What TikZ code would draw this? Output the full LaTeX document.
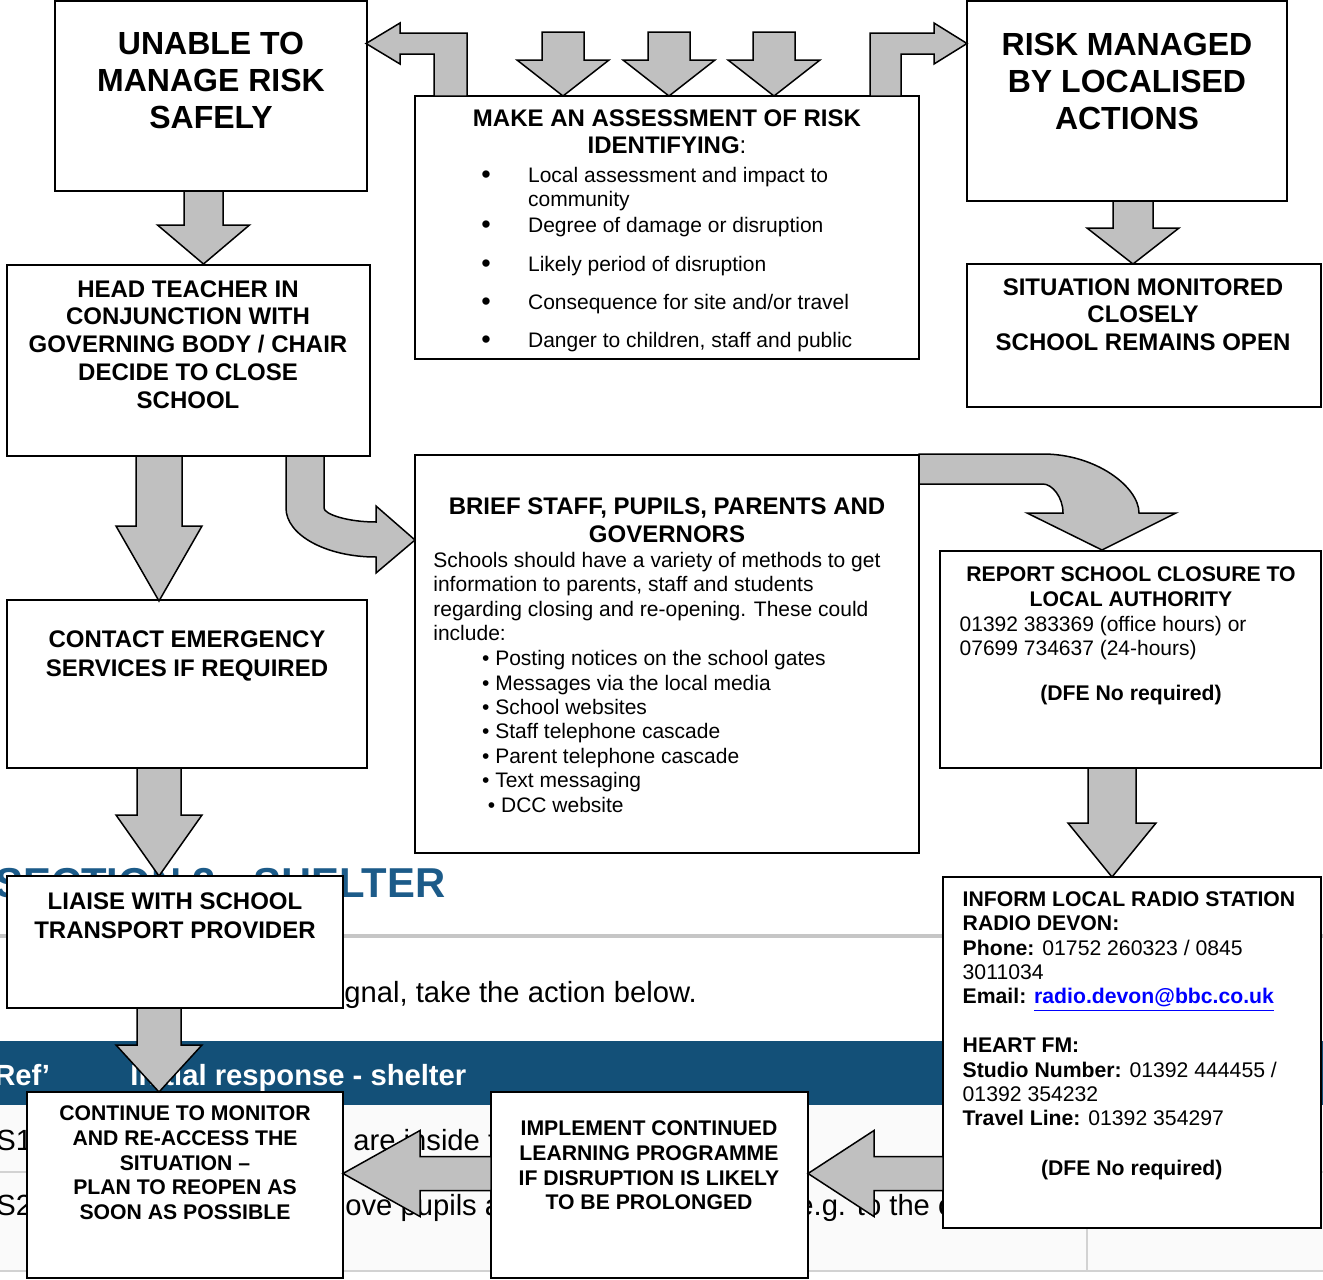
\documentclass[tikz,border=0pt]{standalone}
\usepackage{fontspec}
\setmainfont{Liberation Sans}
\usetikzlibrary{fit}

\definecolor{bandblue}{RGB}{19,80,120}
\definecolor{headblue}{RGB}{28,91,137}
\definecolor{arrowgrey}{RGB}{192,192,192}

\tikzset{
  box/.style={draw=black, fill=white, line width=1pt, inner sep=0pt},
  fat/.style={draw=black, fill=arrowgrey, line width=0.75pt},
  bigtxt/.style={inner sep=0pt, anchor=north, align=center, font=\fontsize{16}{18.5}\selectfont\bfseries},
  hdrtxt/.style={inner sep=0pt, anchor=north, align=center, font=\fontsize{12}{13.9}\selectfont\bfseries},
  smltxt/.style={inner sep=0pt, anchor=north, align=center, font=\fontsize{10.6}{12.35}\selectfont\bfseries},
  bodytxt/.style={inner sep=0pt, anchor=north west, align=left, font=\fontsize{10.5}{12.2}\selectfont},
  bgtxt/.style={inner sep=0pt, anchor=base west, font=\fontsize{14.6}{17}\selectfont}
}

% x, top, base, tip, shaft half width, head half width
\newcommand{\fatdown}[6]{%
  \draw[fat] (#1-#5,#2) -- (#1+#5,#2) -- (#1+#5,#3) -- (#1+#6,#3) -- (#1,#4) -- (#1-#6,#3) -- (#1-#5,#3) -- cycle;}
% y, start, base, tip, shaft half width, head half width
\newcommand{\fatleft}[6]{%
  \draw[fat] (#2,#1-#5) -- (#3,#1-#5) -- (#3,#1-#6) -- (#4,#1) -- (#3,#1+#6) -- (#3,#1+#5) -- (#2,#1+#5) -- cycle;}

\begin{document}
\begin{tikzpicture}[x=0.5pt, y=-0.5pt]
    \useasboundingbox (0,0) rectangle (1323,1280);
    \clip (0,0) rectangle (1323,1280);
    \fill[white] (0,0) rectangle (1323,1280);

    % page behind the chart
    \node[bgtxt, text=headblue, font=\fontsize{20.9}{24}\selectfont\bfseries] (sectitle) at (-5,897) {SECTION 2 - SHELTER};
    \draw[line width=2pt, gray!45] (0,936) -- (1323,936);
    \node[bgtxt] (sentence) at (344,1002) {gnal, take the action below.};
    \fill[bandblue] (0,1041) rectangle (1323,1105);
    \node[bgtxt, text=white, font=\fontsize{14.6}{17}\selectfont\bfseries] (refhdr) at (-6,1085) {Ref’};
    \node[bgtxt, text=white, font=\fontsize{14.6}{17}\selectfont\bfseries] (resphdr) at (130,1085) {Initial response - shelter};
    \fill[gray!4] (0,1105) rectangle (1323,1271);
    \draw[gray!35, line width=1pt] (0,1172) -- (1323,1172);
    \draw[gray!35, line width=1pt] (0,1271) -- (1323,1271);
    \draw[gray!35, line width=1pt] (1087,1105) -- (1087,1271);
    \node[bgtxt] (rowa) at (-4,1150) {S1};
    \node[bgtxt] (rowb) at (-4,1215) {S2};
    \node[bgtxt] (rowatxt) at (353,1150) {are inside t};
    \node[bgtxt] (rowbtxt) at (345,1215) {ove pupils a};
    \node[bgtxt] (rowbtxtb) at (797,1215) {e.g. to the c};

    % boxes
    \node[box, fit={(55,1) (367,191)}] (unable) {};
    \node[box, fit={(415,96) (919,359)}] (assess) {};
    \node[box, fit={(967,1) (1287,201)}] (managed) {};
    \node[box, fit={(967,264) (1321,407)}] (monitored) {};
    \node[box, fit={(7,265) (370,456)}] (head) {};
    \node[box, fit={(415,455) (919,853)}] (brief) {};
    \node[box, fit={(7,600) (367,768)}] (contact) {};
    \node[box, fit={(940,551) (1321,768)}] (report) {};
    \node[box, fit={(7,876) (343,1008)}] (liaise) {};
    \node[box, fit={(943,877) (1321,1228)}] (inform) {};
    \node[box, fit={(27,1092) (343,1278)}] (continue) {};
    \node[box, fit={(491,1092) (808,1278)}] (implement) {};

    % straight arrows
    \fatdown{203.5}{191}{225}{264}{19.5}{46}
    \fatdown{159}{456}{526}{601}{23}{43}
    \fatdown{159}{768}{815}{876}{22}{43}
    \fatdown{159}{1008}{1045}{1092}{22}{43}
    \foreach \x in {563, 669, 774} {
        \fatdown{\x}{32}{60}{96}{21}{46}
    }
    \fatdown{1133}{201}{228}{264}{20}{46}
    \fatdown{1112}{768}{823}{877}{24}{44}
    \fatleft{1173.5}{943}{874}{808}{17}{43}
    \fatleft{1173.5}{491}{420}{343}{17}{43}

    % bent arrows
    \draw[fat] (434,96) -- (434,54) -- (400,54) -- (400,64) -- (366,43.5) -- (400,23) -- (400,33) -- (467,33) -- (467,96) -- cycle;
    \draw[fat] (870,96) -- (870,33) -- (934,33) -- (934,23) -- (967,43.5) -- (934,64) -- (934,54) -- (901,54) -- (901,96) -- cycle;
    \draw[fat] (286,456) -- (286,508) .. controls (286,535) and (326,557) .. (376,557) -- (376,573) -- (415,540) -- (376,506) -- (376,522)
        .. controls (347,522) and (324,514) .. (324,508) -- (324,456) -- cycle;
    \draw[fat] (919,454) -- (1043,454) .. controls (1096,454) and (1139,487) .. (1139,513) -- (1176,513) -- (1102,550) -- (1027,513) -- (1063,513)
        .. controls (1063,497) and (1052,484) .. (1043,484) -- (919,484) -- cycle;

    % texts
    \node[bigtxt] (unabletxt) at (211,32) {UNABLE TO\\MANAGE RISK\\SAFELY};
    \node[bigtxt] (managedtxt) at (1127,32.5) {RISK MANAGED\\BY LOCALISED\\ACTIONS};
    \node[hdrtxt] (assesstxt) at (667,109) {MAKE AN ASSESSMENT OF RISK\\IDENTIFYING\textmd{:}};
    \foreach \y/\t [count=\i] in {182.5/Local assessment and impact to, 232/Degree of damage or disruption,
        271/Likely period of disruption, 309/{Consequence for site and/or travel}, 347/{Danger to children, staff and public}} {
        \node[bodytxt, anchor=base, font=\fontsize{13.5}{14}\selectfont] (dot\i) at (486,\y+1) {•};
        \node[bodytxt, anchor=base west] (item\i) at (527.7,\y) {\t};
    }
    \node[bodytxt, anchor=base west] (itemrest) at (527.7,206) {community};
    \node[hdrtxt] (monitoredtxt) at (1143,278) {SITUATION MONITORED\\CLOSELY\\SCHOOL REMAINS OPEN};
    \node[hdrtxt] (headtxt) at (188,280) {HEAD TEACHER IN\\CONJUNCTION WITH\\GOVERNING BODY / CHAIR\\DECIDE TO CLOSE\\SCHOOL};
    \node[hdrtxt] (brieftxt) at (667,497.5) {BRIEF STAFF, PUPILS, PARENTS AND\\GOVERNORS};
    \node[bodytxt] (briefbody) at (433,551.6) {Schools should have a variety of methods to get\\information to parents, staff and students\\regarding closing and re-opening. These could\\include:};
    \node[bodytxt] (brieflist) at (481.7,650) {• Posting notices on the school gates\\• Messages via the local media\\• School websites\\• Staff telephone cascade\\• Parent telephone cascade\\• Text messaging\\\ • DCC website};
    \node[hdrtxt, font=\fontsize{12}{14.5}\selectfont\bfseries] (contacttxt) at (187,630.3) {CONTACT EMERGENCY\\SERVICES IF REQUIRED};
    \node[hdrtxt, font=\fontsize{12}{14.5}\selectfont\bfseries] (liaisetxt) at (175,892.3) {LIAISE WITH SCHOOL\\TRANSPORT PROVIDER};
    \node[smltxt] (continuetxt) at (185,1105.4) {CONTINUE TO MONITOR\\AND RE-ACCESS THE\\SITUATION –\\PLAN TO REOPEN AS\\SOON AS POSSIBLE};
    \node[smltxt] (implementtxt) at (649,1120.4) {IMPLEMENT CONTINUED\\LEARNING PROGRAMME\\IF DISRUPTION IS LIKELY\\TO BE PROLONGED};
    \node[smltxt] (reporttxt) at (1131,566.7) {REPORT SCHOOL CLOSURE TO\\LOCAL AUTHORITY};
    \node[bodytxt] (reportnum) at (959.3,615.4) {01392 383369 (office hours) or\\07699 734637 (24-hours)};
    \node[smltxt, anchor=base] (reportdfe) at (1131,700) {(DFE No required)};
    \node[bodytxt, font=\fontsize{10.6}{12.2}\selectfont] (informtxt) at (962.3,891) {\textbf{INFORM LOCAL RADIO STATION}\\\textbf{RADIO DEVON:}\\\textbf{Phone:} 01752 260323 / 0845\\3011034\\\textbf{Email:} \textcolor{blue}{\textbf{\underline{radio.devon@bbc.co.uk}}}\\[12.2pt]\textbf{HEART FM:}\\\textbf{Studio Number:} 01392 444455 /\\01392 354232\\\textbf{Travel Line:} 01392 354297};
    \node[smltxt, anchor=base] (informdfe) at (1131.7,1175) {(DFE No required)};
\end{tikzpicture}
\end{document}
